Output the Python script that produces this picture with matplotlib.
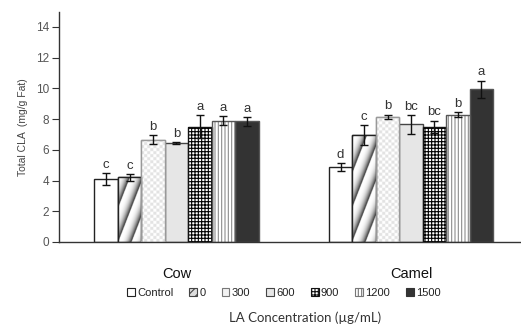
import numpy as np
import matplotlib
matplotlib.use("Agg")
import matplotlib.pyplot as plt
from matplotlib.patches import Patch

plt.rcParams['font.family'] = ['Liberation Sans', 'DejaVu Sans']

groups = ["Cow", "Camel"]
series = ["Control", "0", "300", "600", "900", "1200", "1500"]
cow_vals = [4.1, 4.2, 6.65, 6.45, 7.5, 7.9, 7.85]
cow_errs = [0.4, 0.2, 0.3, 0.05, 0.75, 0.3, 0.3]
cow_letters = ["c", "c", "b", "b", "a", "a", "a"]
camel_vals = [4.9, 6.95, 8.15, 7.65, 7.5, 8.3, 9.95]
camel_errs = [0.25, 0.65, 0.15, 0.6, 0.4, 0.15, 0.55]
camel_letters = ["d", "c", "b", "bc", "bc", "b", "a"]
yticks = [0, 2, 4, 6, 8, 10, 12, 14]

fig = plt.figure(figsize=(5.21, 3.28), dpi=100)
ax = fig.add_axes([59/521, 86/328, 461/521, 230.4/328])

styles = [
    dict(facecolor='white', hatch=None, hcol=None),
    dict(facecolor='white', hatch=None, hcol=None),      # gradient image
    dict(facecolor='#f4f4f4', hatch=None, hcol=None),    # checker image
    dict(facecolor='#e6e6e6', hatch=None, hcol=None),
    dict(facecolor='white', hatch='+++++', hcol='black'),
    dict(facecolor='white', hatch='|||||', hcol='#8c8c8c'),
    dict(facecolor='#333333', hatch=None, hcol=None),
]
edgecols = ['#222222', '#222222', '#999999', '#444444', '#111111', '#555555', '#555555']

x = np.arange(len(groups))
w = 0.1
n = len(series)
vals = np.array([cow_vals, camel_vals])
errs = np.array([cow_errs, camel_errs])
letters = [cow_letters, camel_letters]

ax.set_xlim(-0.501, 1.465)
ax.set_ylim(0, 15)

all_bars = []
for i in range(n):
    xs = x + (i - (n - 1) / 2) * w
    st = styles[i]
    if st['hatch']:
        plt.rcParams['hatch.linewidth'] = 0.8
        ax.bar(xs, vals[:, i], w, facecolor=st['facecolor'], hatch=st['hatch'],
               edgecolor=st['hcol'], linewidth=0, zorder=2)
        bars = ax.bar(xs, vals[:, i], w, fill=False, edgecolor=edgecols[i],
                      linewidth=1.0, zorder=3)
    else:
        bars = ax.bar(xs, vals[:, i], w, facecolor=st['facecolor'],
                      edgecolor=edgecols[i], linewidth=1.0, zorder=2)
    all_bars.append(bars)
    ax.errorbar(xs, vals[:, i], yerr=errs[:, i], fmt='none', ecolor='#111111',
                elinewidth=1, capsize=3, capthick=1, zorder=6)
    for j in range(len(groups)):
        ax.text(xs[j], vals[j, i] + errs[j, i] + 0.15, letters[j][i],
                ha='center', va='bottom', fontsize=9.5, color='#333333', zorder=7)

fig.canvas.draw()

def add_image(rect, kind):
    x0, y0 = rect.get_x(), rect.get_y()
    x1, y1 = x0 + rect.get_width(), y0 + rect.get_height()
    (px0, py0), (px1, py1) = ax.transData.transform([(x0, y0), (x1, y1)])
    W = max(int(round((px1 - px0) * 3)), 2)
    H = max(int(round((py1 - py0) * 3)), 2)
    xx, yy = np.meshgrid(np.arange(W) / 3.0, np.arange(H) / 3.0)
    if kind == 'grad':
        phase = np.mod((xx - 0.38 * yy) / 13.0, 1.0)
        arr = 1.0 - 0.85 * phase ** 3
    else:
        arr = np.where((np.floor(xx / 3.0) + np.floor(yy / 3.0)) % 2 == 0, 1.0, 0.89)
    im = ax.imshow(arr, extent=(x0, x1, y0, y1), origin='lower', cmap='gray',
                   vmin=0, vmax=1, aspect='auto', interpolation='bilinear', zorder=2.5)
    im.set_clip_path(rect)
    ax.add_patch(plt.Rectangle((x0, y0), x1 - x0, y1 - y0, fill=False,
                               edgecolor=rect.get_edgecolor(), linewidth=1.0, zorder=3))

for r in all_bars[1]:
    add_image(r, 'grad')
for r in all_bars[2]:
    add_image(r, 'check')

ax.set_xlim(-0.501, 1.465)
ax.set_ylim(0, 15)

for s in ['top', 'right']:
    ax.spines[s].set_visible(False)
for s in ['left', 'bottom']:
    ax.spines[s].set_color('#333333')
    ax.spines[s].set_linewidth(1.0)
ax.set_yticks(yticks)
ax.tick_params(axis='y', direction='out', length=5, labelsize=8.5, colors='#333333',
               labelcolor='#555555', pad=2)
ax.set_xticks(x)
ax.set_xticklabels(groups, fontsize=10.5, color='#111111')
ax.tick_params(axis='x', length=0, pad=18)
ax.set_ylabel("Total CLA  (mg/g Fat)", fontsize=7.5, color='#444444', labelpad=6)

handles = [
    Patch(facecolor='white', edgecolor='#222222', linewidth=0.8),
    Patch(facecolor='#dddddd', edgecolor='#444444', hatch='////', linewidth=0.8),
    Patch(facecolor='#f2f2f2', edgecolor='#777777', linewidth=0.8),
    Patch(facecolor='#e6e6e6', edgecolor='#444444', linewidth=0.8),
    Patch(facecolor='white', edgecolor='#111111', hatch='+++++', linewidth=0.8),
    Patch(facecolor='white', edgecolor='#777777', hatch='|||||', linewidth=0.8),
    Patch(facecolor='#333333', edgecolor='#333333', linewidth=0.8),
]
fig.legend(handles, series, loc='center', bbox_to_anchor=(284/521, 1 - 293/328),
           ncol=7, frameon=False, fontsize=8, handlelength=0.7, handleheight=0.7,
           handletextpad=0.2, columnspacing=1.45, labelcolor='#222222')

fig.text(305/521, 1 - 318/328, "LA Concentration (\u00b5g/mL)", ha='center', va='center',
         fontsize=9.5, color='#333333', family=['Lato', 'DejaVu Sans'])

fig.savefig("out.png", dpi=100)
